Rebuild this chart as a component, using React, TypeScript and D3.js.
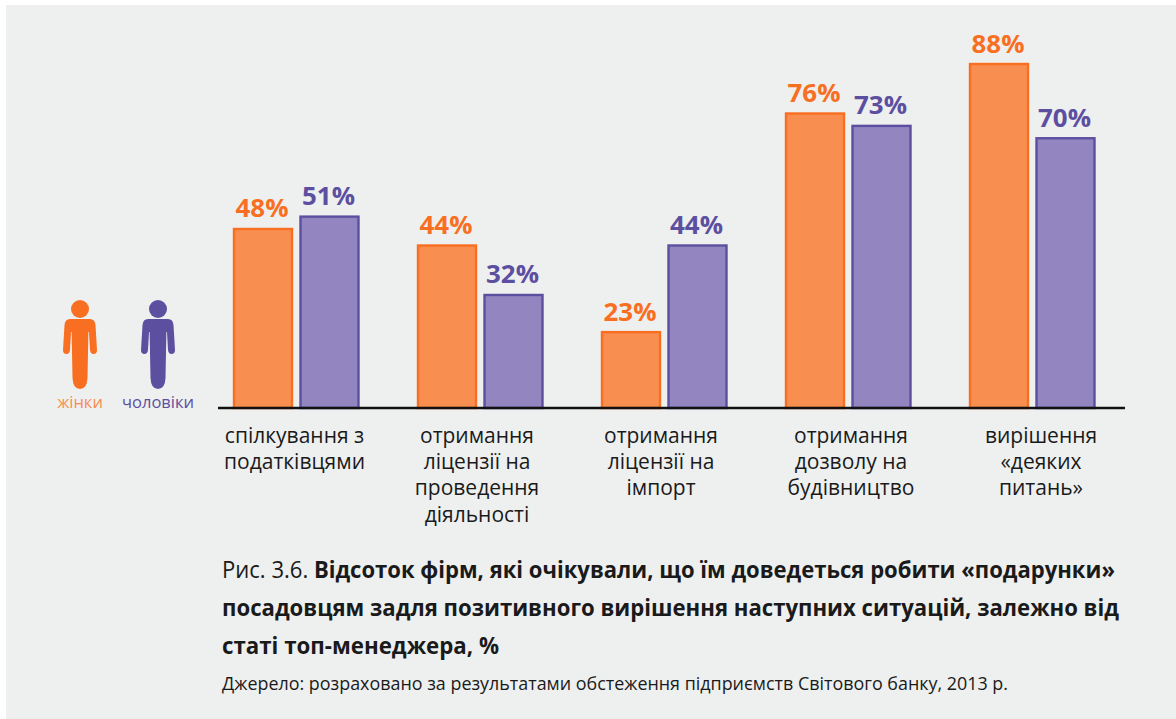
import React from "react";
import * as d3 from "d3";

const categories = ["a", "b", "c", "d", "e"];
const categoryLines = [
  ["спілкування з", "податківцями"],
  ["отримання", "ліцензії на", "проведення", "діяльності"],
  ["отримання", "ліцензії на", "імпорт"],
  ["отримання", "дозволу на", "будівництво"],
  ["вирішення", "«деяких", "питань»"],
];
const women = [48, 44, 23, 76, 88];
const men = [51, 32, 44, 73, 70];
const seriesLabels = ["жінки", "чоловіки"];
const titleLines = [
  { pre: "Рис. 3.6. ", bold: "Відсоток фірм, які очікували, що їм доведеться робити «подарунки»" },
  { pre: "", bold: "посадовцям задля позитивного вирішення наступних ситуацій, залежно від" },
  { pre: "", bold: "статі топ-менеджера, %" },
];
const source = "Джерело: розраховано за результатами обстеження підприємств Світового банку, 2013 р.";

const ORANGE = "#f96f22";
const ORANGE_FILL = "#f88e4f";
const PURPLE = "#5d4f9f";
const PURPLE_FILL = "#9285c0";
const FONT = "'Open Sans', 'Noto Sans', sans-serif";

const titleWidths = [893, 897, 277];
const categoryLabelShift = [-0.5, -2, -2, 4, 10];

const x0 = d3.scaleBand<string>().domain(categories).range([233, 1153]).paddingInner(0).paddingOuter(0);
const y = d3.scaleLinear().domain([4.6, 88]).range([408, 64]);
const barW = 60;
const manOffset = 66.5;

function Person({ cx, color }: { cx: number; color: string }) {
  const side = (s: number) =>
    `L${cx + s * 10},319 Q${cx + s * 15},319 ${cx + s * 15.5},325 L${cx + s * 17},350 ` +
    `Q${cx + s * 17},354 ${cx + s * 13.5},354 Q${cx + s * 10.5},354 ${cx + s * 10},350 ` +
    `L${cx + s * 9},332 L${cx + s * 8.4},332 L${cx + s * 7.5},378 Q${cx + s * 7},389 ${cx},389 `;
  const d = `M${cx},319 ${side(1)} Z M${cx},319 ${side(-1)} Z`;
  return (
    <g fill={color}>
      <circle cx={cx} cy={309} r={9} />
      <path d={d} />
    </g>
  );
}

export default function App() {
  return (
    <svg
      width={1176}
      height={719}
      style={{ position: "fixed", left: 0, top: 0, display: "block", background: "#fff" }}
      fontFamily={FONT}
    >
      <rect x={6} y={5} width={1170} height={714} fill="#eef0f0" />
      {categories.map((c, i) => {
        const gx = x0(c)!;
        return (
          <g key={c}>
            {[
              { v: women[i], x: gx, fill: ORANGE_FILL, stroke: ORANGE },
              { v: men[i], x: gx + manOffset, fill: PURPLE_FILL, stroke: PURPLE },
            ].map((b, j) => (
              <g key={j}>
                <rect
                  x={b.x + 1}
                  y={y(b.v)}
                  width={barW - 2}
                  height={408 - y(b.v)}
                  fill={b.fill}
                  stroke={b.stroke}
                  strokeWidth={2.4}
                />
                <text
                  x={b.x + barW / 2 - 1}
                  y={y(b.v) - 11.5}
                  textAnchor="middle"
                  fontSize={24.5}
                  fontWeight={700}
                  fill={b.stroke}
                  textLength={53}
                  lengthAdjust="spacingAndGlyphs"
                >
                  {b.v}%
                </text>
              </g>
            ))}
            {categoryLines[i].map((t, k) => (
              <text
                key={k}
                x={gx + 62 + categoryLabelShift[i]}
                y={442.5 + k * 26.4}
                textAnchor="middle"
                fontSize={21}
                fill="#1a1a1a"
              >
                {t}
              </text>
            ))}
          </g>
        );
      })}
      <line x1={218} x2={1125} y1={408} y2={408} stroke="#111" strokeWidth={2.5} />
      <Person cx={80} color={ORANGE} />
      <Person cx={158} color={PURPLE} />
      <text x={80} y={408} textAnchor="middle" fontSize={16.5} fill={ORANGE_FILL}>{seriesLabels[0]}</text>
      <text x={158} y={408} textAnchor="middle" fontSize={16.5} fill={PURPLE}>{seriesLabels[1]}</text>
      {titleLines.map((l, i) => (
        <text key={i} x={222} y={578 + i * 38} fontSize={23} fill="#1a1a1a" textLength={titleWidths[i]} lengthAdjust="spacingAndGlyphs">
          {l.pre && <tspan>{l.pre}</tspan>}
          <tspan fontWeight={700}>{l.bold}</tspan>
        </text>
      ))}
      <text x={222} y={690} fontSize={17.5} fill="#1a1a1a" textLength={786} lengthAdjust="spacingAndGlyphs">{source}</text>
    </svg>
  );
}
